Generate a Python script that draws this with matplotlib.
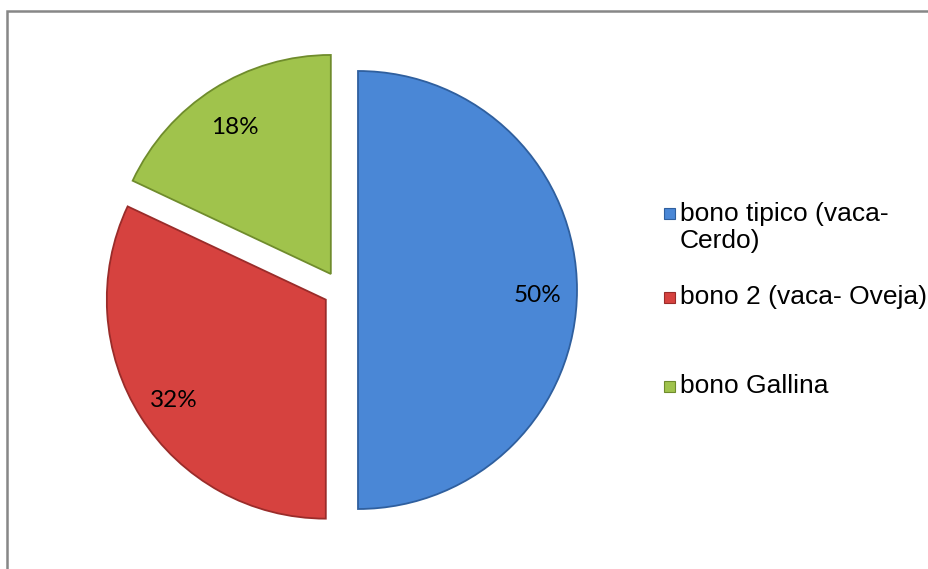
import matplotlib.pyplot as plt
from matplotlib.patches import Rectangle

# data
labels = ["bono tipico (vaca-\nCerdo)", "bono 2 (vaca- Oveja)", "bono Gallina"]
values = [50, 32, 18]
colors = ["#4a87d6", "#d6423f", "#a0c34c"]
edges = ["#2f5f9e", "#9a2c2a", "#6f8c2c"]

fig = plt.figure(figsize=(9.29, 5.69), dpi=100)
ax = fig.add_axes([0, 0, 1, 1])

# pie in pixel-like units so the layout is easy to place
wedges, texts, autotexts = ax.pie(
    values, colors=colors, startangle=90, counterclock=False,
    explode=[17, 18, 19], radius=219, center=(341, 279),
    autopct="%.0f%%", pctdistance=0.82,
    wedgeprops=dict(linewidth=1.3),
    textprops=dict(fontsize=17.5, family="Lato", color="black"))
for w, e in zip(wedges, edges):
    w.set_edgecolor(e)
# labels sit a little lower in the original
for t in autotexts:
    x, y = t.get_position()
    t.set_position((x, y - 5))

ax.set_xlim(0, 929)
ax.set_ylim(0, 569)
ax.set_aspect("equal")
ax.axis("off")

# legend, drawn by hand to follow the original spacing
legend_y = [213, 297, 386]
for lab, col, e, y in zip(labels, colors, edges, legend_y):
    yy = 569 - y
    ax.add_patch(Rectangle((664, yy - 5.5), 11, 11, facecolor=col, edgecolor=e, lw=0.8))
    if "\n" in lab:
        ax.text(680, yy + 11, lab, fontsize=19, family="Liberation Sans",
                va="top", ha="left", linespacing=1.15)
    else:
        ax.text(680, yy, lab, fontsize=19, family="Liberation Sans",
                va="center", ha="left")

# chart border (runs off the right and bottom edges)
fig.patches.append(Rectangle((7 / 929, -0.1), 1.2, (569 - 11) / 569 + 0.1,
                             transform=fig.transFigure, fill=False,
                             edgecolor="#878787", lw=1.8))

fig.savefig("out.png", dpi=100)
